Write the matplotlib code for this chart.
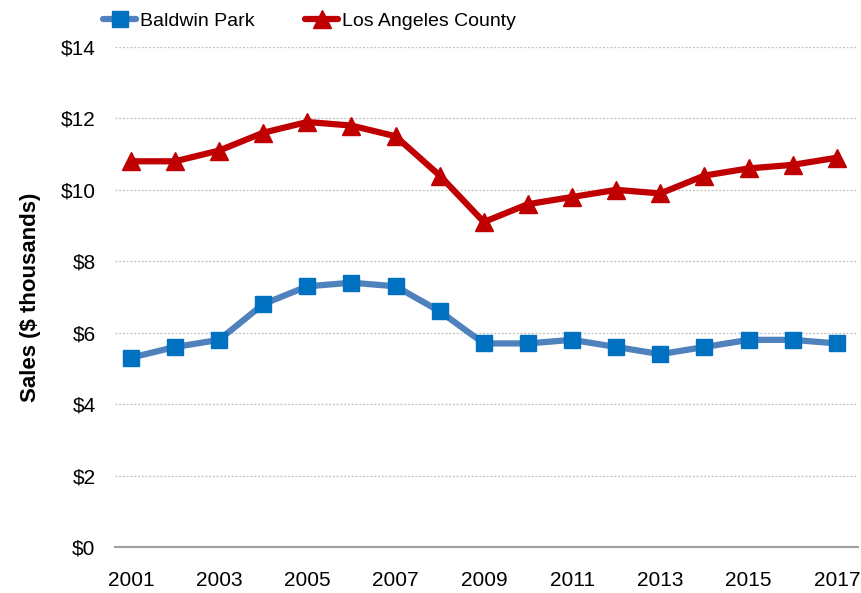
import matplotlib

matplotlib.use("Agg")
import matplotlib.pyplot as plt
from matplotlib.ticker import FuncFormatter

plt.rcParams["font.family"] = ["Liberation Sans", "DejaVu Sans"]

years = list(range(2001, 2018))
baldwin_park = [5.3, 5.6, 5.8, 6.8, 7.3, 7.4, 7.3, 6.6, 5.7, 5.7, 5.8, 5.6, 5.4, 5.6, 5.8, 5.8, 5.7]
la_county = [10.8, 10.8, 11.1, 11.6, 11.9, 11.8, 11.5, 10.4, 9.1, 9.6, 9.8, 10.0, 9.9, 10.4, 10.6, 10.7, 10.9]
x_ticks = list(range(2001, 2018, 2))
y_ticks = list(range(0, 15, 2))

fig = plt.figure(figsize=(8.62, 5.93), dpi=100)
ax = fig.add_axes([115 / 862, 1 - 547 / 593, (858 - 115) / 862, 500 / 593])

ax.plot(years, baldwin_park, color="#4F81BD", lw=4.5, marker="s", ms=12,
        markerfacecolor="#0070C0", markeredgecolor="#0070C0", label="Baldwin Park",
        solid_capstyle="round")
ax.plot(years, la_county, color="#C00000", lw=4.5, marker="^", ms=13,
        markerfacecolor="#C00000", markeredgecolor="#C00000", label="Los Angeles County",
        solid_capstyle="round")

ax.set_xlim(2000.64, 2017.48)
ax.set_ylim(0, 14)
ax.set_xticks(x_ticks)
ax.set_yticks(y_ticks)
ax.yaxis.set_major_formatter(FuncFormatter(lambda v, _: f"${v:.0f}"))
ax.tick_params(axis="both", length=0, labelsize=15, colors="black")
ax.tick_params(axis="x", pad=17)
ax.tick_params(axis="y", pad=14)

for v in y_ticks[1:]:
    ax.axhline(v, color="#BFBFBF", lw=0.9, ls=(0, (1.5, 1.5)), zorder=0)

for side in ["top", "right", "left"]:
    ax.spines[side].set_visible(False)
ax.spines["bottom"].set_color("#A0A0A0")
ax.spines["bottom"].set_linewidth(1.5)

ax.set_ylabel("Sales ($ thousands)", fontsize=16, fontweight="bold", labelpad=14)

ax.legend(loc="lower left", bbox_to_anchor=(-0.016, 1.035), ncol=2, frameon=False,
          fontsize=14, handlelength=1.7, handletextpad=0.2, columnspacing=2.6,
          borderaxespad=0, borderpad=0)

fig.savefig("out.png", dpi=100)
